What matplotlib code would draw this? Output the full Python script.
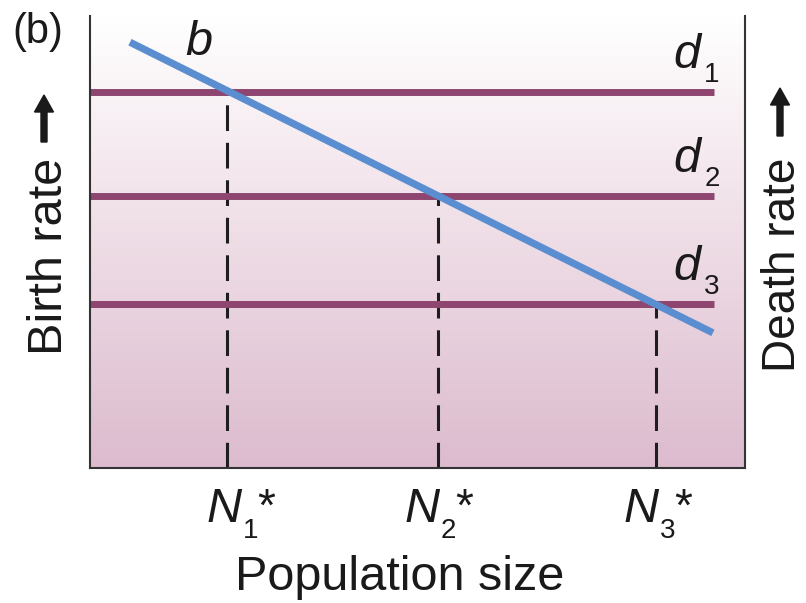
import numpy as np
import matplotlib
matplotlib.use("Agg")
import matplotlib.pyplot as plt
from matplotlib.colors import LinearSegmentedColormap
from matplotlib.patches import FancyArrow

plt.rcParams['font.family'] = ['Liberation Sans', 'DejaVu Sans']
plt.rcParams['lines.scale_dashes'] = False

# ---- data (axis units 0..10) ----
death_rates = [8.32, 6.02, 3.63]          # d1, d2, d3 (horizontal lines)
death_labels = ['1', '2', '3']
death_x_end = 9.53
birth_x = [0.61, 9.51]                      # birth-rate line b
birth_y = [9.42, 2.99]
n_star = [2.09, 5.31, 8.64]                 # equilibrium population sizes
n_labels = ['1', '2', '3']
n_left_px = [-20, -33, -32]                 # label offset of N from its dashed line (px)

W, H = 806, 603
fig = plt.figure(figsize=(W / 100, H / 100), dpi=100)
fig.patch.set_facecolor('white')

def fx(x):
    return x / W

def fy(y):
    return 1 - y / H

ax = fig.add_axes([fx(90), fy(468), 655 / W, 452 / H])
ax.set_xlim(0, 10)
ax.set_ylim(0, 10)

# gradient background
cmap = LinearSegmentedColormap.from_list('bg', [(0, '#dcbbce'), (0.55, '#f0e0e8'), (1.0, '#ffffff')])
grad = np.linspace(0, 1, 256).reshape(-1, 1)
ax.imshow(grad, extent=[0, 10, 0, 10], origin='lower', aspect='auto', cmap=cmap, zorder=0)

for s in ['left', 'right', 'bottom']:
    ax.spines[s].set_linewidth(1.5)
    ax.spines[s].set_color('#333333')
ax.spines['top'].set_visible(False)
ax.set_xticks([])
ax.set_yticks([])

line_col = '#8e456f'
blue = '#5b8ed1'

for d in death_rates:
    ax.plot([0, death_x_end], [d, d], color=line_col, lw=5, solid_capstyle='butt', zorder=2)

for n, d in zip(n_star, death_rates):
    ax.plot([n, n], [0, d], color='#1e1e1e', lw=2.2, linestyle=(0, (18.5, 8.5)),
            dash_capstyle='butt', zorder=1)

ax.plot(birth_x, birth_y, color=blue, lw=5.2, solid_capstyle='butt', zorder=3)

pt = 0.72  # points per pixel at 100 dpi

# d labels
for d, lab in zip(death_rates, death_labels):
    ax.annotate('d', xy=(death_x_end, d), xytext=(-41 * pt, 24 * pt), textcoords='offset points',
                fontsize=35, style='italic', ha='left', va='baseline', color='#1a1a1a')
    ax.annotate(lab, xy=(death_x_end, d), xytext=(-10 * pt, 10 * pt), textcoords='offset points',
                fontsize=20, ha='left', va='baseline', color='#1a1a1a')

# N* labels
for n, lab, off in zip(n_star, n_labels, n_left_px):
    ax.annotate('N', xy=(n, 0), xytext=(off * pt, -54 * pt), textcoords='offset points',
                fontsize=35, style='italic', ha='left', va='baseline', color='#1a1a1a',
                annotation_clip=False)
    ax.annotate(lab, xy=(n, 0), xytext=((off + 36) * pt, -70 * pt), textcoords='offset points',
                fontsize=20, ha='left', va='baseline', color='#1a1a1a', annotation_clip=False)
    ax.annotate('*', xy=(n, 0), xytext=((off + 50) * pt, -53 * pt), textcoords='offset points',
                fontsize=33, ha='left', va='baseline', color='#1a1a1a', annotation_clip=False)

# b label and panel label
fig.text(fx(185), fy(55), 'b', fontsize=35, style='italic', ha='left', va='baseline', color='#1a1a1a')
fig.text(fx(12), fy(43), '(b)', fontsize=30, ha='left', va='baseline', color='#1a1a1a')

# axis titles
fig.text(fx(400), fy(590), 'Population size', fontsize=35, ha='center', va='baseline', color='#1a1a1a')
fig.text(fx(62), fy(355), 'Birth rate', fontsize=35, rotation=90, rotation_mode='anchor',
         ha='left', va='baseline', color='#1a1a1a')
fig.text(fx(795), fy(372), 'Death rate', fontsize=33, rotation=90, rotation_mode='anchor',
         ha='left', va='baseline', color='#1a1a1a')

# arrows (in inches, equal aspect)
def arrow(xc, y_tail, y_tip):
    a = FancyArrow(xc / 100, (H - y_tail) / 100, 0, (y_tail - y_tip) / 100,
                   width=0.06, head_width=0.19, head_length=0.17,
                   length_includes_head=True, color='#1a1a1a',
                   transform=fig.dpi_scale_trans)
    fig.add_artist(a)

arrow(44, 142, 95)
arrow(780, 136, 88)

fig.savefig('out.png', dpi=100, facecolor='white')
